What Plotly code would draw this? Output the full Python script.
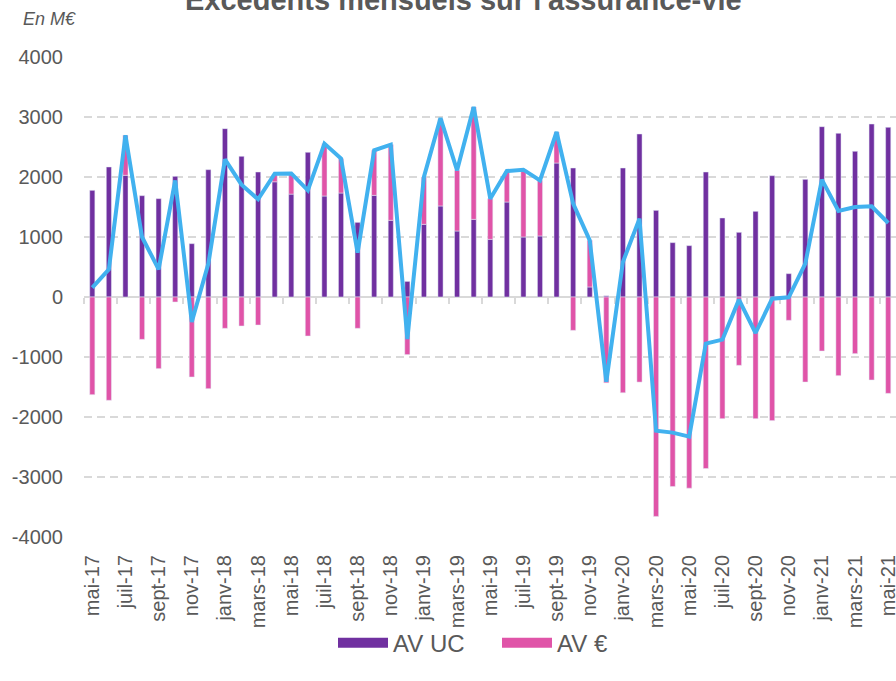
import plotly.graph_objects as go

months = ["janv", "févr", "mars", "avr", "mai", "juin", "juil", "août", "sept", "oct", "nov", "déc"]
categories = []
m, yr = 4, 17
while (yr, m) <= (21, 4):
    categories.append(f"{months[m]}-{yr}")
    m += 1
    if m == 12:
        m, yr = 0, yr + 1

av_uc = [1778, 2167, 2028, 1689, 1639, 2011, 889, 2122, 2806, 2344, 2083, 1920, 1715,
         2411, 1683, 1733, 1244, 1694, 1278, 260, 1211, 1517, 1100, 1294, 961, 1583,
         1000, 1017, 2233, 2150, 167, 20, 2150, 2717, 1444, 906, 856, 2083, 1317, 1078,
         1428, 2022, 389, 1961, 2839, 2728, 2428, 2883, 2828]
av_euro = [-1628, -1722, 667, -706, -1194, -83, -1333, -1528, -522, -483, -467, 130, 340,
           -650, 873, 573, -522, 750, 1261, -960, 789, 1455, 1011, 1873, 678, 511,
           1122, 927, 517, -556, 777, -1430, -1596, -1418, -3657, -3158, -3186, -2859, -2028, -1139,
           -2028, -2060, -389, -1417, -900, -1311, -944, -1383, -1606]
total = [156, 461, 2694, 1000, 461, 1944, -417, 556, 2294, 1872, 1628, 2056, 2060,
         1778, 2556, 2306, 739, 2444, 2539, -700, 2000, 2983, 2111, 3167, 1639, 2100,
         2122, 1944, 2750, 1556, 944, -1413, 583, 1306, -2227, -2260, -2327, -778, -711, -44,
         -600, -28, -5, 556, 1956, 1433, 1500, 1511, 1233]
y_ticks = [-4000, -3000, -2000, -1000, 0, 1000, 2000, 3000, 4000]
y_ticktext = ["-4000", "-3000", "-2000", "-1000", "0", "1000", "2000", "3000", "4000"]

PURPLE = "#7030A0"
PINK = "#E054A8"
BLUE = "#41B1EF"
GREY_TXT = "#595959"
GRID = "#D9D9D9"
FONT = "Liberation Sans, Arial, sans-serif"

fig = go.Figure()
fig.add_trace(go.Bar(x=categories, y=av_uc, name="AV UC", marker_color=PURPLE,
                     showlegend=False))
fig.add_trace(go.Bar(x=categories, y=av_euro, name="AV €", marker_color=PINK,
                     showlegend=False))
fig.add_trace(go.Scatter(x=categories, y=total, mode="lines", xaxis="x2", yaxis="y",
                         line=dict(color=BLUE, width=4), showlegend=False, name="Total"))
# legend entries (wide swatches)
fig.add_trace(go.Scatter(x=[None], y=[None], mode="lines", name="AV UC",
                         line=dict(color=PURPLE, width=10)))
fig.add_trace(go.Scatter(x=[None], y=[None], mode="lines", name="AV €",
                         line=dict(color=PINK, width=10)))

rng = [-0.5, 48.47]
fig.update_layout(
    width=896, height=681,
    margin=dict(l=84, r=0, t=57, b=144, pad=0, autoexpand=False),
    paper_bgcolor="white", plot_bgcolor="white",
    barmode="relative", bargap=0.69,
    font=dict(family=FONT, color=GREY_TXT, size=20),
    xaxis=dict(type="category", categoryorder="array", categoryarray=categories,
               range=rng, tickmode="array", tickvals=categories[::2],
               tickangle=-90, showgrid=False, showline=False, ticks="",
               ticklabelstandoff=13, zeroline=False, automargin=False,
               tickfont=dict(size=20, color=GREY_TXT)),
    xaxis2=dict(type="category", categoryorder="array", categoryarray=categories,
                matches="x", overlaying="x", anchor="free", position=0.5,
                showticklabels=False, showgrid=False, showline=True, automargin=False,
                linecolor=GRID, linewidth=2, ticks="outside", ticklen=6,
                tickcolor=GRID, tickwidth=2, tickson="boundaries",
                tickmode="array", tickvals=categories[::2], layer="below traces"),
    yaxis=dict(range=[-4000, 4000], tickmode="array", tickvals=y_ticks, ticktext=y_ticktext,
               showgrid=True, gridcolor=GRID, gridwidth=1.5, griddash="8px,5px",
               zeroline=True, zerolinecolor=GRID, zerolinewidth=2, automargin=False,
               showline=False, ticks="", ticklabelstandoff=20,
               tickfont=dict(size=20, color=GREY_TXT)),
    legend=dict(orientation="h", x=(333 - 84) / 812, xanchor="left", y=-0.221,
                yanchor="middle", font=dict(size=24, color=GREY_TXT), itemwidth=50,
                entrywidth=99, entrywidthmode="pixels",
                bgcolor="rgba(0,0,0,0)"),
    annotations=[
        dict(text="<b>Excédents mensuels sur l'assurance-vie</b>", xref="paper", yref="paper",
             x=(463 - 84) / 812, y=1, xanchor="center", yanchor="bottom", yshift=39,
             showarrow=False, font=dict(size=29, color=GREY_TXT, family=FONT)),
        dict(text="<i>En M€</i>", xref="paper", yref="paper", x=(21 - 84) / 812, y=1,
             xanchor="left", yanchor="bottom", yshift=26, showarrow=False,
             font=dict(size=18, color=GREY_TXT, family=FONT)),
    ],
)

fig.write_html(
    "out.html",
    config={"displayModeBar": False},
    post_script="document.body.style.margin='0';document.body.style.overflow='hidden';",
)
